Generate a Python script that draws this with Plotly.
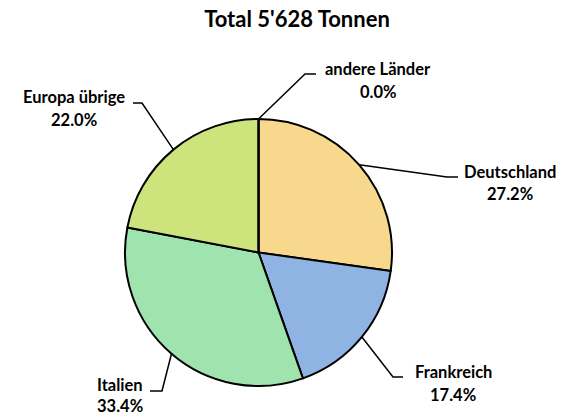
import math
import plotly.graph_objects as go

# ---- data ----
categories = ["Deutschland", "Frankreich", "Italien", "Europa übrige", "andere Länder"]
shares = [27.2, 17.4, 33.4, 22.0, 0.0]
title_text = "Total 5'628 Tonnen"

# ---- style / layout ----
colors = ["#F8D88C", "#8FB4E3", "#9FE3AE", "#CDE47D", "#E46C0A"]
W, H = 564, 418
CX, CY, R = 258.5, 252.5, 133.5  # pie centre and radius in pixels
FONT = "Lato"
LABEL_SIZE = 16.5

# label layout: (elbow x, elbow y, end x, text centre x, line1 y, line2 y)
label_layout = {
    "Deutschland":   (447, 177, 458, 510, 172, 194),
    "Frankreich":    (393, 377, 403, 453, 372, 395),
    "Italien":       (162, 391, 150, 120, 385, 406),
    "Europa übrige": (142, 103, 133, 74, 97, 120),
    "andere Länder": (305, 74, 316, 378, 69, 92),
}

fig = go.Figure(go.Pie(
    labels=categories,
    values=[max(v, 1e-9) for v in shares],
    sort=False,
    direction="clockwise",
    rotation=0,
    marker=dict(colors=colors, line=dict(color="black", width=2)),
    textinfo="none",
    hoverinfo="label+percent",
    showlegend=False,
    domain=dict(x=[(CX - R) / W, (CX + R) / W],
                y=[(H - CY - R) / H, (H - CY + R) / H]),
))

def px(x):
    return x / W

def py(y):
    return 1 - y / H

shapes = []
annotations = []
total = sum(shares)
cum = 0.0
for name, v in zip(categories, shares):
    mid = (cum + v / 2) / total
    cum += v
    ang = 2 * math.pi * mid
    sx = CX + R * math.sin(ang)
    sy = CY - R * math.cos(ang)
    ex, ey, hx, tx, ty1, ty2 = label_layout[name]
    path = f"M {px(sx)} {py(sy)} L {px(ex)} {py(ey)} L {px(hx)} {py(ey)}"
    shapes.append(dict(type="path", xref="paper", yref="paper", path=path,
                       line=dict(color="black", width=1.5)))
    for txt, ty in ((name, ty1), (f"{v:.1f}%", ty2)):
        annotations.append(dict(
            x=px(tx), y=py(ty), xref="paper", yref="paper",
            text=f"<b>{txt}</b>",
            showarrow=False, align="center", xanchor="center", yanchor="middle",
            font=dict(family=FONT, size=LABEL_SIZE, color="black"),
        ))

fig.update_layout(
    width=W, height=H,
    margin=dict(l=0, r=0, t=0, b=0),
    paper_bgcolor="white",
    plot_bgcolor="white",
    title=dict(text=f"<b>{title_text}</b>", x=297 / W, xanchor="center",
               y=1 - 19 / H, yanchor="middle",
               font=dict(family=FONT, size=22, color="black")),
    shapes=shapes,
    annotations=annotations,
)

fig.write_html("out.html", config={"displayModeBar": False},
               post_script="document.body.style.margin='0';")
